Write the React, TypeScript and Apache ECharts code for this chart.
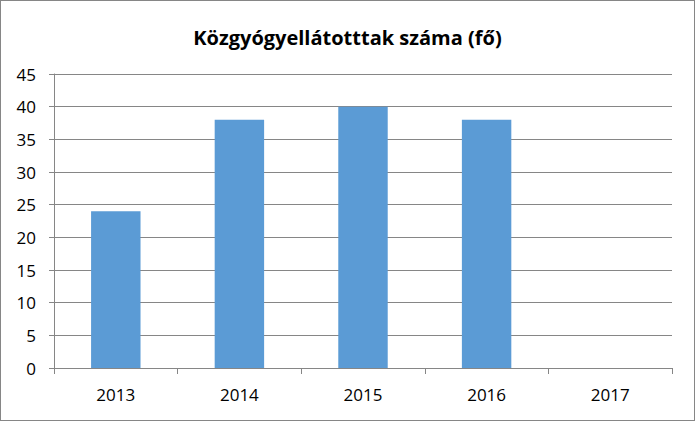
import React, { useEffect, useRef } from "react";
import * as echarts from "echarts";

const categories = ["2013", "2014", "2015", "2016", "2017"];
const values = [24, 38, 40, 38, 0];
const titleText = "Közgyógyellátotttak száma (fő)";

export default function App() {
  const ref = useRef<HTMLDivElement>(null);
  useEffect(() => {
    const chart = echarts.init(ref.current!, null, { renderer: "svg" });
    const axisColor = "#868686";
    chart.setOption({
      animation: false,
      backgroundColor: "#ffffff",
      title: {
        text: titleText,
        left: "center",
        top: 21,
        textStyle: { fontFamily: "Open Sans", fontWeight: "bold", fontSize: 20, color: "#000" },
      },
      grid: { left: 53, right: 22, top: 73, bottom: 52, containLabel: false },
      xAxis: {
        type: "category",
        data: categories,
        axisLine: { show: true, lineStyle: { color: axisColor, width: 1 } },
        axisTick: { show: true, length: 6, alignWithLabel: false, lineStyle: { color: axisColor } },
        axisLabel: { color: "#000", fontFamily: "Open Sans", fontSize: 17, margin: 18 },
        splitLine: { show: false },
      },
      yAxis: {
        type: "value",
        min: 0,
        max: 45,
        interval: 5,
        axisLine: { show: true, lineStyle: { color: axisColor, width: 1 } },
        axisTick: { show: true, length: 5, lineStyle: { color: axisColor } },
        axisLabel: { color: "#000", fontFamily: "Open Sans", fontSize: 17, margin: 18 },
        splitLine: { show: true, lineStyle: { color: axisColor, width: 1 } },
      },
      series: [
        {
          type: "bar",
          data: values,
          barWidth: "40%",
          itemStyle: { color: "#5B9BD5" },
        },
      ],
    });
    return () => chart.dispose();
  }, []);
  return (
    <div
      style={{
        position: "absolute",
        left: 0,
        top: 0,
        width: 695,
        height: 421,
        boxSizing: "border-box",
        border: "1px solid #868686",
        background: "#fff",
      }}
    >
      <div ref={ref} style={{ width: 693, height: 419 }} />
    </div>
  );
}
